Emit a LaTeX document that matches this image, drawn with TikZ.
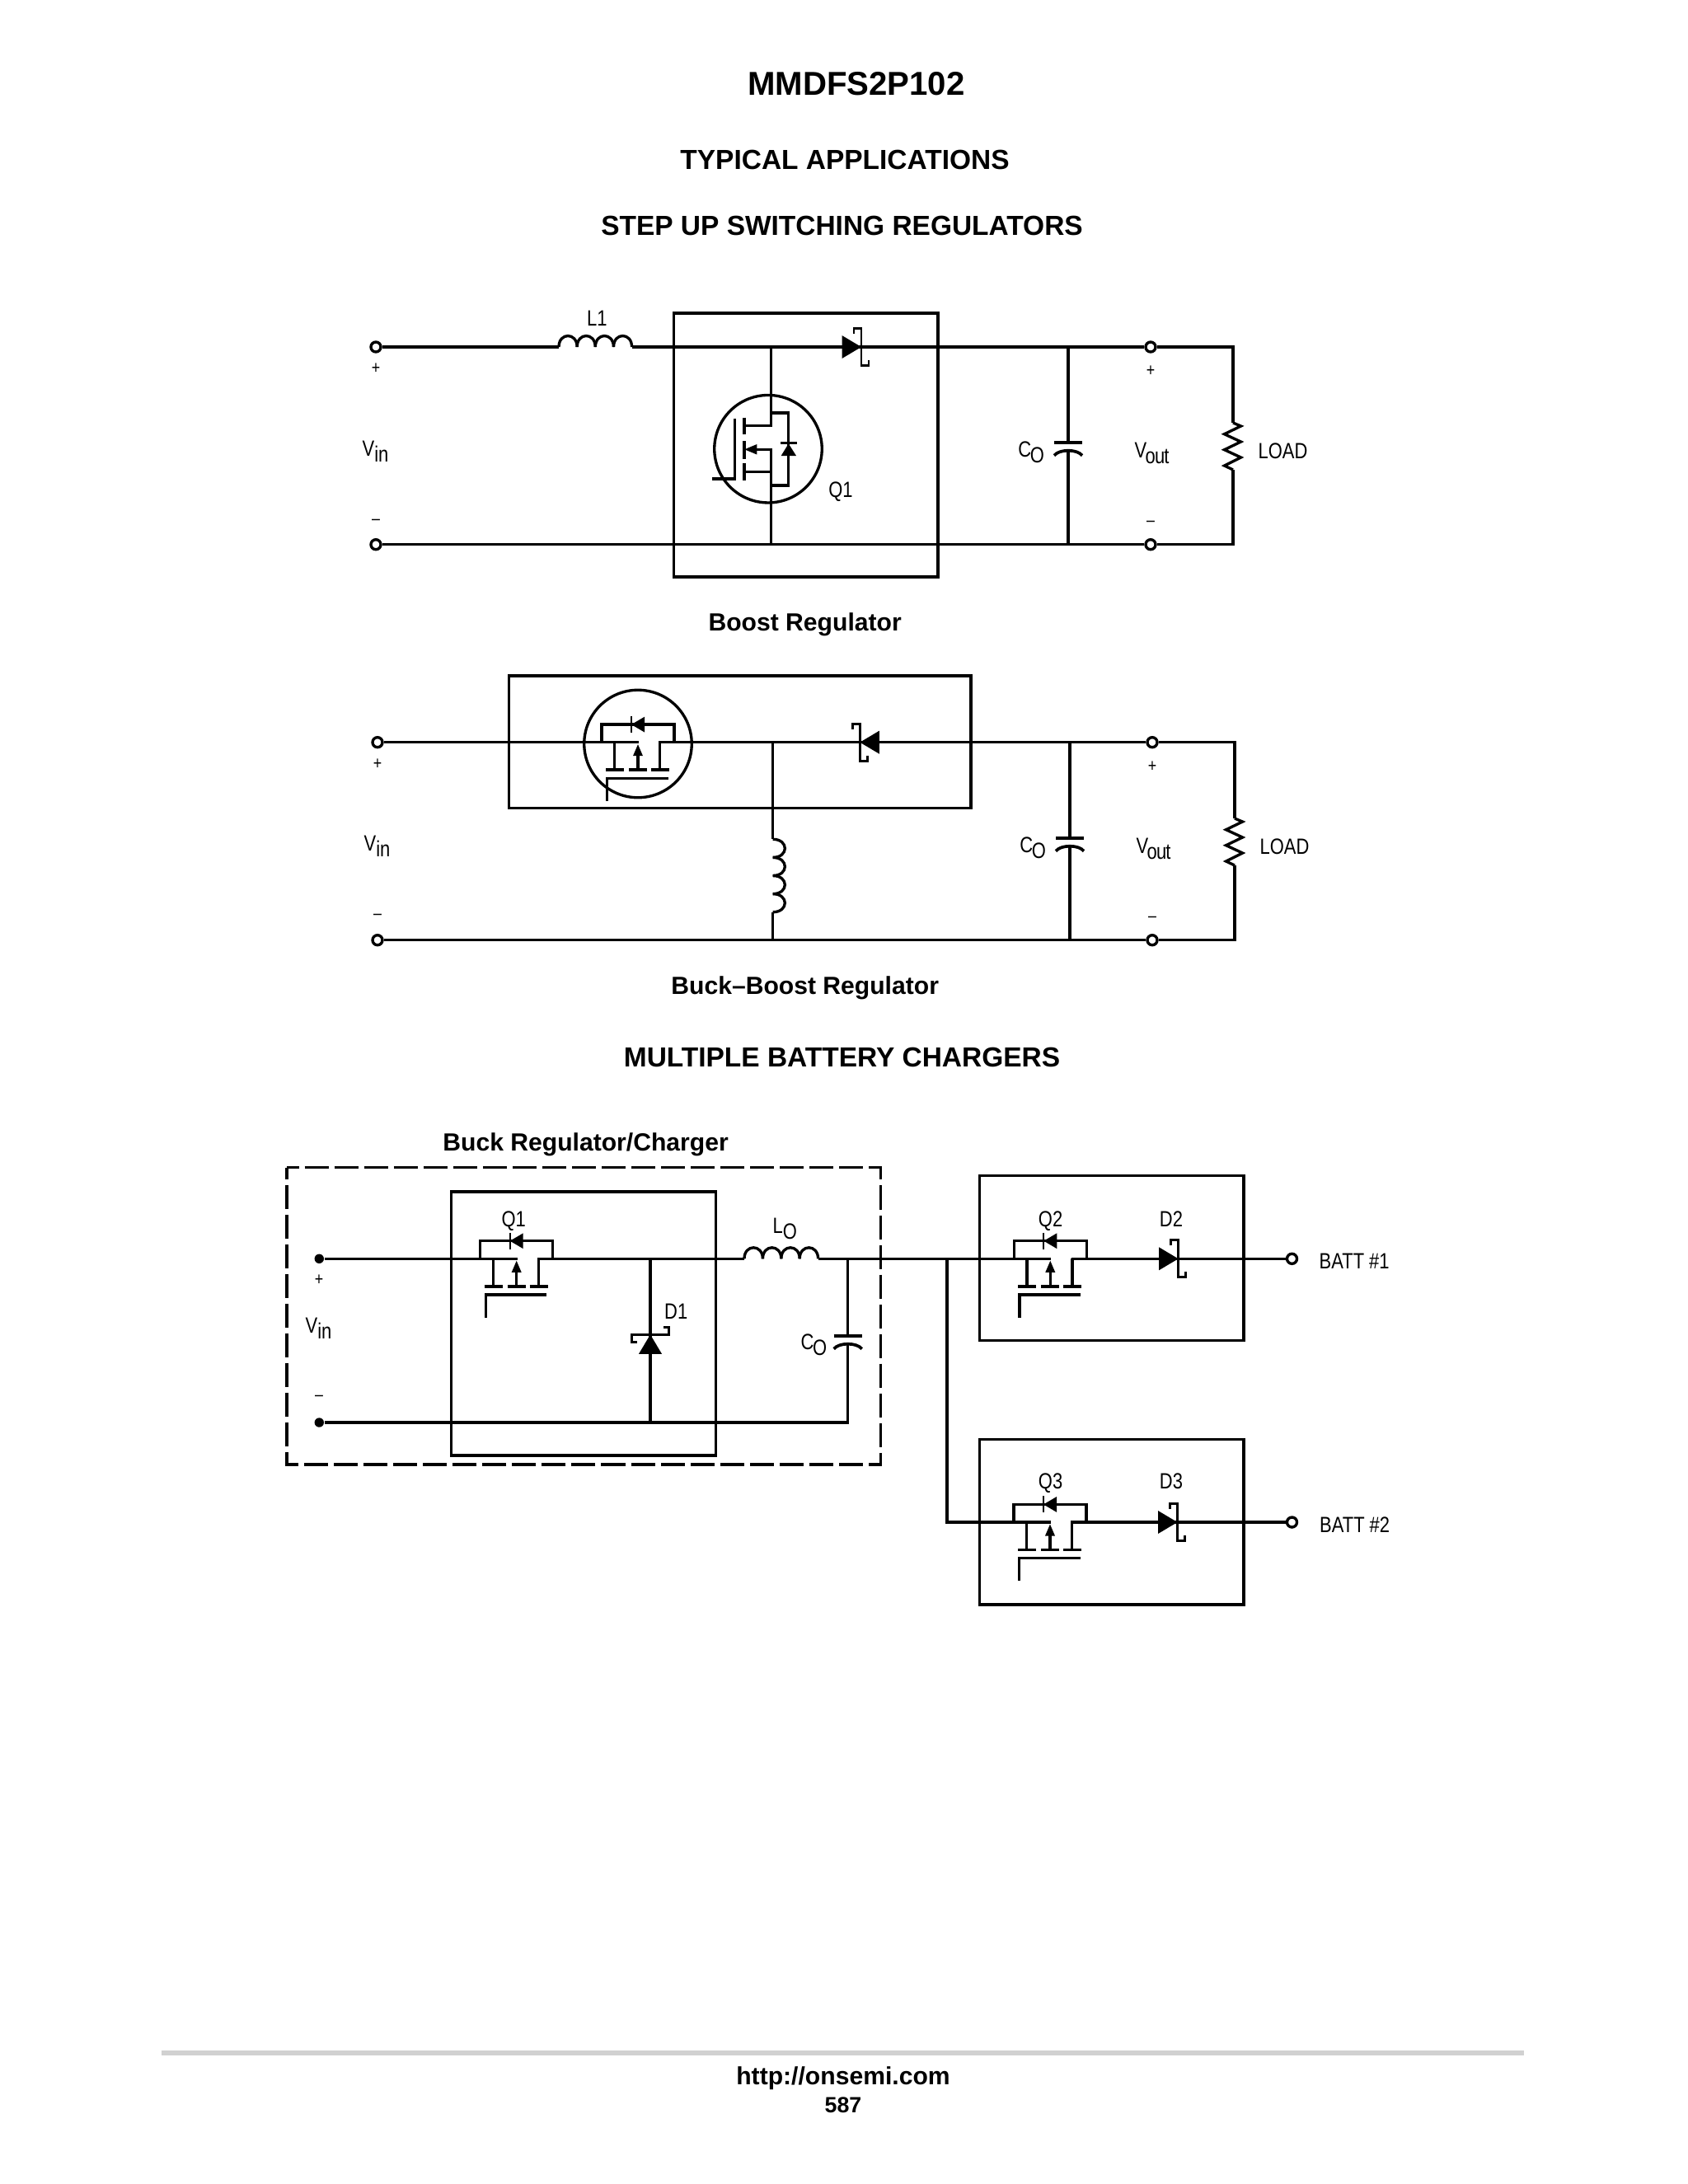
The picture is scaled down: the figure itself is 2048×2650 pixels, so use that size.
\documentclass[tikz,border=0pt]{standalone}
\usepackage{fontspec}
\setmainfont{Liberation Sans}
\newfontfamily\narrowf[FakeStretch=0.82]{Liberation Sans}
\newcommand\subt[2]{#1\raisebox{-2.1pt}{#2}}
\newcommand\coilH[3]{\foreach \i in {0,1,2,3}{\draw[wire] ({#1+\i*#3},#2) .. controls ({#1+\i*#3},{#2-18}) and ({#1+\i*#3+#3},{#2-18}) .. ({#1+\i*#3+#3},#2);}}
\newcommand\coilV[3]{\foreach \i in {0,1,2,3}{\draw[wire] (#1,{#2+\i*#3}) .. controls ({#1+19.5},{#2+\i*#3}) and ({#1+19.5},{#2+\i*#3+#3}) .. (#1,{#2+\i*#3+#3});}}
\tikzset{
  x=0.29883pt,y=-0.29883pt,
  wire/.style={line width=1pt,line join=miter,line cap=butt},
  boxs/.style={line width=1.05pt,line join=miter},
  term/.style={circle,draw,fill=white,line width=1pt,inner sep=0pt,minimum size=3.6pt},
  dotn/.style={circle,fill=black,inner sep=0pt,minimum size=3.4pt},
  lab/.style={inner sep=0pt,anchor=base,font=\narrowf\fontsize{8}{9}\selectfont},
  labw/.style={lab,anchor=base west},
  sign/.style={inner sep=0pt,anchor=center,font=\narrowf\fontsize{6.5}{7}\selectfont},
  title/.style={inner sep=0pt,anchor=base,font=\bfseries\fontsize{10}{12}\selectfont},
  subtitle/.style={inner sep=0pt,anchor=base,font=\bfseries\fontsize{9}{11}\selectfont},
  schottky/.pic={
    \fill (-23.5,-14) -- (0,0) -- (-23.5,14) -- cycle;
    \draw[line width=0.8pt] (-9,-16) -- (-9,-22.5) -- (0,-22.5) -- (0,22.5) -- (9,22.5) -- (9,16);
  },
  capacitor/.pic={
    \draw[line width=1.1pt] (-17,0) -- (17,0);
    \draw[line width=1.1pt] (-17,16) .. controls (-11,8) and (11,8) .. (17,16);
  },
  resistor/.pic={
    \draw[wire] (0,0) -- (9.5,4) -- (-10.5,13.7) -- (9.5,23) -- (-10.5,32.7) -- (9.5,42) -- (-10.5,52) -- (0,57);
  },
  pfet/.pic={
    \draw[wire] (-44,0) -- (-44,-21.6) -- (44,-21.6) -- (44,0);
    \fill (-8,-21.6) -- (8,-31) -- (8,-12.2) -- cycle;
    \draw[line width=0.7pt] (-8,-31.6) -- (-8,-11.6);
    \draw[wire] (-44,0) -- (1,0);
    \draw[wire] (25.2,0) -- (44,0);
    \draw[wire] (-28.4,0) -- (-28.4,33);
    \draw[wire] (26.6,0) -- (26.6,33);
    \draw[wire] (0,33) -- (0,15);
    \fill (0,2.5) -- (-6,16.5) -- (6,16.5) -- cycle;
    \draw[line width=1.1pt] (-39,33.4) -- (-17,33.4);
    \draw[line width=1.1pt] (-11,33.4) -- (11,33.4);
    \draw[line width=1.1pt] (16,33.4) -- (38,33.4);
    \draw[wire] (-37.4,71.4) -- (-37.4,43.7) -- (36.6,43.7);
  }
}
\newcommand\outtxt{\kern-0.5pt o\kern-0.25pt u\kern-0.25pt t}
\begin{document}
\begin{tikzpicture}
\useasboundingbox (0,0) rectangle (2048,2650);
\fill[white] (0,0) rectangle (2048,2650);

% headings
\node[inner sep=0pt,anchor=base,font=\bfseries\fontsize{12}{14}\selectfont] (h0) at (1039,115) {MMDFS2P102};
\node[title] (h1) at (1025,205) {TYPICAL APPLICATIONS};
\node[title] (h2) at (1021.5,285) {STEP UP SWITCHING REGULATORS};
\node[subtitle] (h3) at (976.7,765) {Boost Regulator};
\node[subtitle] (h4) at (976.7,1206) {Buck–Boost Regulator};
\node[title] (h5) at (1021.5,1294) {MULTIPLE BATTERY CHARGERS};
\node[subtitle] (h6) at (710.6,1396) {Buck Regulator/Charger};

% ---------- Boost regulator
\draw[boxs] (817.5,380) rectangle (1138,700);
\node[term] (t1) at (456,421) {};
\node[term] (t2) at (456,660.7) {};
\node[term] (t3) at (1396,421) {};
\node[term] (t4) at (1396,660.7) {};
\coordinate (l1a) at (678,421);
\coordinate (l1b) at (766.6,421);
\coordinate (r1t) at (1496,421);
\coordinate (r1b) at (1496,660.7);
\coordinate (r1u) at (1496,513);
\coordinate (r1d) at (1496,570);
\coordinate (c1t) at (1296,421);
\coordinate (c1b) at (1296,660.7);
\coordinate (c1p) at (1296,536.7);
\coordinate (c1q) at (1296,547.7);
\coordinate (q1d) at (935.7,421);
\coordinate (q1s) at (935.7,660.7);
\draw[wire] (t1) -- (l1a);
\coilH{678}{421}{22.15}
\draw[wire] (l1b) -- (t3) (t3) -- (r1t) -- (r1u);
\draw[wire] (r1d) -- (r1b) -- (t4) (t4) -- (t2);
\pic at (1496,513) {resistor};
\draw[wire] (c1t) -- (c1p) (c1q) -- (c1b);
\pic at (1296,536.7) {capacitor};
\pic at (1045,421) {schottky};
% Q1 boost
\node[circle,draw,line width=1pt,inner sep=0pt,minimum size=39pt] (q1c) at (932,544.7) {};
\draw[wire] (q1d) -- (935.7,516.7) -- (903,516.7);
\draw[wire] (903,572.3) -- (935.7,572.3);
\draw[wire] (912,545.3) -- (935.7,545.3) -- (q1s);
\fill (903.3,545.3) -- (918.3,539) -- (918.3,551.5) -- cycle;
\draw[wire] (935.7,501) -- (956.7,501) -- (956.7,589) -- (935.7,589);
\fill (956.7,538.3) -- (947.7,553) -- (966,553) -- cycle;
\draw[line width=0.8pt] (947,537.5) -- (967,537.5);
\draw[line width=1.1pt] (902.7,506.7) -- (902.7,527);
\draw[line width=1.1pt] (902.7,535) -- (902.7,556.7);
\draw[line width=1.1pt] (902.7,561.7) -- (902.7,582.7);
\draw[wire] (891.7,507.7) -- (891.7,581) -- (864.3,581);
\node[lab] (lL1) at (724.4,395) {L1};
\node[lab] (lQ1) at (1020,603) {Q1};
\node[sign] (s1) at (456,447) {+};
\node[sign] (s2) at (456,633) {–};
\node[sign] (s3) at (1396,450) {+};
\node[sign] (s4) at (1396,635) {–};
\node[labw] (lv1) at (439,553) {\subt{V}{in}};
\node[labw] (lc1) at (1234.7,554.5) {\subt{C}{\kern-0.4ptO}};
\node[labw] (lo1) at (1376,555) {\subt{V}{\outtxt}};
\node[labw] (ll1) at (1526,556) {LOAD};

% ---------- Buck-boost regulator
\draw[boxs] (617.7,820) rectangle (1178,980.7);
\node[term] (t5) at (458,900.7) {};
\node[term] (t6) at (458,1140.7) {};
\node[term] (t7) at (1398,900.7) {};
\node[term] (t8) at (1398,1140.7) {};
\coordinate (q2l) at (730,900.7);
\coordinate (q2r) at (818,900.7);
\coordinate (j2) at (937.7,900.7);
\coordinate (j2a) at (937.7,1018.3);
\coordinate (j2b) at (937.7,1106.7);
\coordinate (j2c) at (937.7,1140.7);
\coordinate (r2t) at (1498,900.7);
\coordinate (r2b) at (1498,1140.7);
\coordinate (r2u) at (1498,993);
\coordinate (r2d) at (1498,1050);
\coordinate (c2t) at (1298,900.7);
\coordinate (c2b) at (1298,1140.7);
\coordinate (c2p) at (1298,1016.7);
\coordinate (c2q) at (1298,1027.7);
\node[circle,draw,line width=1pt,inner sep=0pt,minimum size=39pt] (q2c) at (774,902.5) {};
\draw[wire] (t5) -- (q2l);
\pic at (774,900.7) {pfet};
\draw[wire] (q2r) -- (j2) -- (t7) (t7) -- (r2t) -- (r2u);
\draw[wire] (j2) -- (j2a);
\coilV{937.7}{1018.3}{22.1}
\draw[wire] (j2b) -- (j2c);
\draw[wire] (r2d) -- (r2b) -- (t8) (t8) -- (t6);
\pic at (1498,993) {resistor};
\draw[wire] (c2t) -- (c2p) (c2q) -- (c2b);
\pic at (1298,1016.7) {capacitor};
\pic[rotate=180] at (1043.3,900.7) {schottky};
\node[sign] (s5) at (458,927) {+};
\node[sign] (s6) at (458,1112) {–};
\node[sign] (s7) at (1398,930) {+};
\node[sign] (s8) at (1398,1115) {–};
\node[labw] (lv2) at (441,1032.5) {\subt{V}{in}};
\node[labw] (lc2) at (1236.7,1034.5) {\subt{C}{\kern-0.4ptO}};
\node[labw] (lo2) at (1378,1035) {\subt{V}{\outtxt}};
\node[labw] (ll2) at (1528,1036) {LOAD};

% ---------- Buck regulator / charger
\draw[line width=0.95pt,dash pattern=on 8.67pt off 2.1pt,dash phase=4.3pt] (348,1416.7) -- (1068.7,1416.7) -- (1068.7,1777) -- (348,1777) -- cycle;
\draw[boxs] (547.3,1446) rectangle (868.3,1766);
\node[dotn] (d1) at (387.3,1527.3) {};
\node[dotn] (d2) at (387.3,1726) {};
\coordinate (q4l) at (583,1527.3);
\coordinate (q4r) at (671,1527.3);
\coordinate (lob) at (992.7,1527.3);
\coordinate (loa) at (903,1527.3);
\coordinate (d1t) at (789,1527.3);
\coordinate (d1b) at (789,1726);
\coordinate (cot) at (1028.7,1527.3);
\coordinate (cop) at (1028.7,1620.7);
\coordinate (coq) at (1028.7,1631);
\coordinate (cob) at (1028.7,1726);
\coordinate (jb) at (1149,1527.3);
\coordinate (jc) at (1149,1847);
\coordinate (q5l) at (1229.5,1527.3);
\coordinate (q5r) at (1318,1527.3);
\coordinate (q6l) at (1229.5,1847);
\coordinate (q6r) at (1318,1847);
\draw[wire] (d1) -- (q4l);
\pic at (626.7,1527.3) {pfet};
\draw[wire] (q4r) -- (loa);
\coilH{903}{1527.3}{22.4}
\draw[wire] (lob) -- (jb) -- (q5l);
\draw[wire] (jb) -- (jc) -- (q6l);
\draw[wire] (d1t) -- (d1b);
\draw[wire] (d2) -- (cob) -- (coq) (cop) -- (cot);
\pic at (1028.7,1620.7) {capacitor};
\pic[rotate=90] at (789,1619.3) {schottky};
\node[sign] (s9) at (387,1553) {+};
\node[sign] (s10) at (387,1696) {–};
\node[labw] (lv3) at (370,1617) {\subt{V}{in}};
\node[lab] (lq4) at (623.3,1488) {Q1};
\node[labw] (ld1) at (805.5,1600.7) {D1};
\node[labw] (llo) at (937,1496) {\subt{L}{O}};
\node[labw] (lco) at (971,1637) {\subt{C}{\kern-0.4ptO}};

% ---------- Charger blocks
\draw[boxs] (1188.6,1426.7) rectangle (1509,1626.7);
\draw[boxs] (1188.3,1746.7) rectangle (1509,1947);
\node[term] (t9) at (1567.5,1527.3) {};
\node[term] (t10) at (1567.5,1847) {};
\pic at (1274.3,1527.3) {pfet};
\pic at (1274,1847) {pfet};
\draw[wire] (q5r) -- (t9);
\draw[wire] (q6r) -- (t10);
\pic at (1429.6,1527.3) {schottky};
\pic at (1428.5,1847) {schottky};
\node[lab] (lq2) at (1274.6,1488) {Q2};
\node[lab] (ld2) at (1421,1488) {D2};
\node[lab] (lq3) at (1274.6,1806) {Q3};
\node[lab] (ld3) at (1421,1806) {D3};
\node[labw] (lb1) at (1600,1539.5) {BATT \#1};
\node[labw] (lb2) at (1600.5,1859) {BATT \#2};

% ---------- Footer
\draw[line width=1.8pt,color=black!18] (196,2491) -- (1849,2491);
\node[subtitle] (f1) at (1023,2529) {http://onsemi.com};
\node[inner sep=0pt,anchor=base,font=\bfseries\fontsize{8}{10}\selectfont] (f2) at (1023,2563) {587};
\end{tikzpicture}
\end{document}
